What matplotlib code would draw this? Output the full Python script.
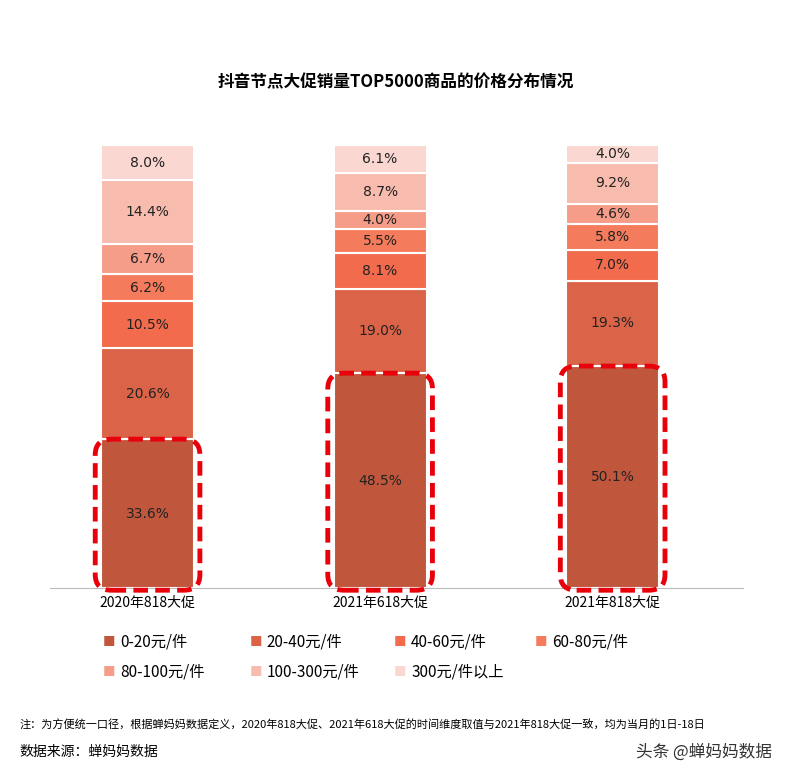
import matplotlib.pyplot as plt
from matplotlib.patches import FancyBboxPatch

plt.rcParams['font.family'] = ['Noto Sans CJK SC', 'DejaVu Sans']

periods = ['2020年818大促', '2021年618大促', '2021年818大促']
ranges = ['0-20元/件', '20-40元/件', '40-60元/件', '60-80元/件',
          '80-100元/件', '100-300元/件', '300元/件以上']
shares = [
    [33.6, 48.5, 50.1],
    [20.6, 19.0, 19.3],
    [10.5, 8.1, 7.0],
    [6.2, 5.5, 5.8],
    [6.7, 4.0, 4.6],
    [14.4, 8.7, 9.2],
    [8.0, 6.1, 4.0],
]
colors = ['#C0573D', '#DB6448', '#F26B4C', '#F47C5C', '#F59D88', '#F8BCAE', '#FAD7D0']

fig = plt.figure(figsize=(7.92, 7.84), dpi=100)
ax = fig.add_axes([0.063, 0.25, 0.875, 0.565])
x = range(len(periods))
bottoms = [0, 0, 0]
for vals, c in zip(shares, colors):
    ax.bar(x, vals, 0.4, bottom=bottoms, color=c, edgecolor='white', linewidth=1.5)
    for i, v in enumerate(vals):
        ax.text(i, bottoms[i] + v / 2, f'{v}%', ha='center', va='center', fontsize=10,
                color='#222222', family='DejaVu Sans')
    bottoms = [b + v for b, v in zip(bottoms, vals)]

for i in x:
    h = shares[0][i]
    ax.add_patch(FancyBboxPatch((i - 0.225, -0.5), 0.45, h + 0.5,
                                boxstyle='round,pad=0,rounding_size=0.07',
                                fill=False, edgecolor='#E8000B', linestyle=(0, (3, 1.5)),
                                linewidth=3.5, mutation_aspect=50, clip_on=False, zorder=5))

ax.set_xlim(-0.42, 2.56)
ax.set_ylim(0, 100)
ax.set_xticks(list(x))
ax.set_xticklabels(periods, fontsize=10)
ax.tick_params(axis='x', length=0, pad=6)
ax.set_yticks([])
for s in ['top', 'right', 'left']:
    ax.spines[s].set_visible(False)
ax.spines['bottom'].set_color('#BBBBBB')

fig.text(0.5, 0.895, '抖音节点大促销量TOP5000商品的价格分布情况', ha='center', va='center',
         fontsize=12, fontweight='bold')

leg_x = [0.13, 0.315, 0.497, 0.675]
for k, (lab, c) in enumerate(zip(ranges, colors)):
    lx = leg_x[k % 4]
    ly = 1 - (642 if k < 4 else 672) / 784
    fig.text(lx, ly, '■', color=c, fontsize=9, ha='left', va='center')
    fig.text(lx + 0.022, ly, lab, fontsize=11, ha='left', va='center')

fig.text(0.025, 1 - 725 / 784, '注：为方便统一口径，根据蝉妈妈数据定义，2020年818大促、2021年618大促的时间维度取值与2021年818大促一致，均为当月的1日-18日',
         fontsize=8, va='center')
fig.text(0.025, 1 - 752 / 784, '数据来源：蝉妈妈数据', fontsize=10, va='center')
fig.text(0.975, 1 - 752 / 784, '头条 @蝉妈妈数据', fontsize=12, va='center', ha='right', color='#333333')

fig.savefig('out.png', dpi=100)
